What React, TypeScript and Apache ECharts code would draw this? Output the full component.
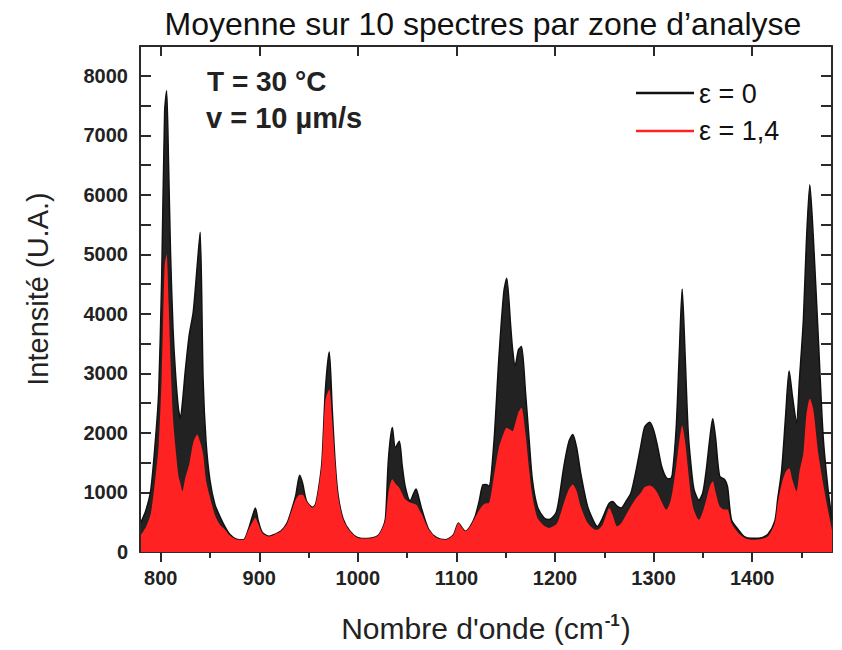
import React, { useEffect, useRef } from "react";
import * as echarts from "echarts";

// Wavenumber grid (cm-1)
const wavenumbers = [
  780, 785, 790, 795, 798, 801, 804, 806, 808, 810, 812.5, 815, 818, 820, 822, 825, 829, 833, 837, 840,
  843, 846, 850, 855, 860, 865, 870, 877, 884, 889, 893, 896, 899, 903, 910, 916, 922, 928, 933, 937,
  941, 944, 948, 954, 957, 960, 963.5, 967, 971, 974, 977, 980, 985, 992, 1000, 1010, 1020, 1025, 1028, 1031,
  1035, 1038, 1042, 1045, 1048, 1053, 1059, 1062, 1065, 1072, 1080, 1089, 1097, 1102, 1106, 1109, 1114, 1119, 1123, 1127,
  1130, 1133, 1138, 1143, 1148, 1151, 1155, 1157, 1159.5, 1163, 1166, 1170, 1174, 1177, 1182, 1189, 1194, 1201, 1204, 1209,
  1214, 1218, 1222, 1226, 1233, 1240, 1243, 1248, 1252, 1255, 1258.5, 1263, 1267, 1272, 1277, 1282, 1287, 1291, 1296, 1300,
  1304, 1308, 1313, 1317, 1319, 1323, 1326, 1329, 1332, 1335, 1338, 1341, 1346, 1350, 1353.5, 1357, 1360, 1363, 1367, 1372,
  1375, 1379, 1386, 1392, 1399, 1408, 1416, 1423, 1426, 1430, 1434, 1437.5, 1441, 1445, 1448, 1452, 1455, 1458.5, 1462, 1467,
  1472, 1477, 1481,
];

// Intensity, epsilon = 0 (black)
const intensityEps0 = [
  500, 700, 1050, 1950, 2700, 4600, 7400, 7750, 6500, 5000, 3750, 3000, 2400, 2250, 2500, 3050, 3650, 4030, 4800, 5370,
  2900, 1850, 1200, 800, 600, 430, 300, 215, 205, 380, 600, 740, 520, 330, 265, 300, 350, 480, 720, 950,
  1290, 1150, 850, 750, 800, 1050, 1500, 2700, 3360, 2400, 1500, 950, 560, 350, 240, 225, 270, 400, 560, 1550,
  2090, 1750, 1860, 1450, 1100, 860, 1060, 900, 710, 375, 240, 207, 290, 488, 400, 347, 430, 600, 850, 1130,
  1133, 1105, 1835, 3240, 4360, 4600, 3800, 3400, 3125, 3400, 3450, 2700, 1830, 1220, 770, 570, 545, 660, 880, 1440,
  1850, 1975, 1750, 1330, 770, 490, 430, 560, 720, 820, 850, 770, 740, 850, 990, 1350, 1780, 2100, 2180, 2050,
  1780, 1450, 1245, 1230, 1300, 2100, 3300, 4420, 3300, 2050, 1450, 1050, 870, 1000, 1385, 1900, 2240, 1900, 1273, 1217,
  1100, 544, 375, 260, 230, 235, 300, 520, 900, 1385, 2300, 3040, 2600, 2171, 2900, 3910, 5200, 6170, 5300, 3630,
  1946, 1049, 550,
];

// Intensity, epsilon = 1,4 (red)
const intensityEps14 = [
  290, 420, 650, 1300, 1800, 2950, 4800, 5000, 4200, 3200, 2250, 1750, 1280, 1150, 1020, 1250, 1480, 1840, 1975, 1850,
  1650, 1200, 920, 620, 460, 380, 280, 210, 205, 375, 500, 572, 470, 320, 260, 300, 350, 470, 700, 880,
  960, 960, 850, 745, 796, 1049, 1498, 2550, 2730, 2200, 1480, 940, 550, 347, 236, 225, 270, 400, 540, 1000,
  1220, 1150, 1080, 980, 885, 830, 796, 720, 630, 375, 236, 207, 290, 488, 400, 347, 430, 580, 700, 790,
  820, 825, 1273, 1750, 2000, 2087, 2050, 2030, 2150, 2350, 2424, 2000, 1350, 950, 580, 440, 405, 460, 560, 825,
  1050, 1133, 1020, 768, 490, 380, 375, 450, 620, 740, 620, 431, 480, 620, 768, 900, 993, 1090, 1116, 1080,
  993, 850, 712, 850, 1000, 1450, 1850, 2126, 1850, 1385, 936, 700, 540, 680, 880, 1100, 1189, 1000, 768, 712,
  712, 488, 320, 240, 207, 215, 263, 488, 825, 1150, 1350, 1408, 1200, 1020, 1350, 1667, 2300, 2576, 2400, 1667,
  1150, 700, 370,
];

const majorTicksX = [800, 900, 1000, 1100, 1200, 1300, 1400];
const minorTicksX = [850, 950, 1050, 1150, 1250, 1350, 1450];

const seriesNames = ["\u03b5 = 0", "\u03b5 = 1,4"];
const titleText = "Moyenne sur 10 spectres par zone d\u2019analyse";
const annotations = ["T = 30 \u00b0C", "v = 10 \u00b5m/s"];
const yAxisTitle = "Intensit\u00e9 (U.A.)";
const xAxisTitle = "Nombre d'onde (cm{sup|-1})";

const FONT = "'Liberation Sans', Arial, Helvetica, sans-serif";
const FRAME = "#2a2a2a";
const BLACK = "#222222";
const RED = "#ff2222";

export default function App() {
  const ref = useRef<HTMLDivElement>(null);

  useEffect(() => {
    if (!ref.current) return;
    const chart = echarts.init(ref.current, undefined, { renderer: "svg" });
    const d0 = wavenumbers.map((x, i) => [x, intensityEps0[i]]);
    const d1 = wavenumbers.map((x, i) => [x, intensityEps14[i]]);

    const xBase = {
      type: "value" as const,
      min: 779,
      max: 1481,
      splitLine: { show: false },
      axisLine: { show: true, onZero: false, lineStyle: { color: FRAME, width: 2 } },
    };
    const yBase = {
      type: "value" as const,
      min: 0,
      max: 8500,
      interval: 500,
      splitLine: { show: false },
      axisLine: { show: true, onZero: false, lineStyle: { color: FRAME, width: 2 } },
    };

    chart.setOption({
      animation: false,
      backgroundColor: "#ffffff",
      grid: { left: 140, right: 10, top: 46, bottom: 98 },
      xAxis: [
        {
          ...xBase,
          position: "bottom",
          axisTick: { show: true, inside: false, length: 10, customValues: majorTicksX, lineStyle: { color: FRAME, width: 2 } },
          axisLabel: {
            show: true,
            customValues: majorTicksX,
            margin: 16,
            fontFamily: FONT,
            fontSize: 20,
            fontWeight: "bold",
            color: "#222",
            formatter: (v: number) => String(v),
          },
        },
        {
          ...xBase,
          position: "bottom",
          axisLine: { show: false },
          axisTick: { show: true, inside: false, length: 6, customValues: minorTicksX, lineStyle: { color: FRAME, width: 2 } },
          axisLabel: { show: false },
        },
        {
          ...xBase,
          position: "top",
          axisTick: { show: true, inside: true, length: 10, customValues: majorTicksX, lineStyle: { color: FRAME, width: 2 } },
          axisLabel: { show: false },
        },
        {
          ...xBase,
          position: "top",
          axisLine: { show: false },
          axisTick: { show: true, inside: true, length: 5, customValues: minorTicksX, lineStyle: { color: FRAME, width: 2 } },
          axisLabel: { show: false },
        },
      ],
      yAxis: [
        {
          ...yBase,
          position: "left",
          axisTick: { show: true, inside: true, length: 11, lineStyle: { color: FRAME, width: 2 } },
          axisLabel: {
            show: true,
            margin: 12,
            fontFamily: FONT,
            fontSize: 20,
            fontWeight: "bold",
            color: "#222",
            showMaxLabel: false,
            formatter: (v: number) => (v % 1000 === 0 ? String(v) : ""),
          },
        },
        {
          ...yBase,
          position: "right",
          axisTick: { show: true, inside: true, length: 11, lineStyle: { color: FRAME, width: 2 } },
          axisLabel: { show: false },
        },
      ],
      series: [
        {
          name: seriesNames[0],
          type: "line",
          data: d0,
          xAxisIndex: 0,
          yAxisIndex: 0,
          smooth: 0.25,
          showSymbol: false,
          lineStyle: { color: "#111", width: 1.5 },
          areaStyle: { color: BLACK, opacity: 1 },
          z: 2,
        },
        {
          name: seriesNames[1],
          type: "line",
          data: d1,
          xAxisIndex: 0,
          yAxisIndex: 0,
          smooth: 0.25,
          showSymbol: false,
          lineStyle: { width: 0, color: RED },
          areaStyle: { color: RED, opacity: 1 },
          z: 3,
        },
      ],
      graphic: [
        {
          type: "text",
          x: 483,
          y: 24,
          style: {
            text: titleText,
            align: "center",
            verticalAlign: "middle",
            fontFamily: FONT,
            fontSize: 32,
            fill: "#111",
          },
        },
        {
          type: "text",
          x: 38,
          y: 289,
          rotation: Math.PI / 2,
          style: {
            text: yAxisTitle,
            align: "center",
            verticalAlign: "middle",
            fontFamily: FONT,
            fontSize: 29,
            fill: "#222",
          },
        },
        {
          type: "text",
          x: 486,
          y: 628,
          style: {
            text: xAxisTitle,
            align: "center",
            verticalAlign: "middle",
            fontFamily: FONT,
            fontSize: 30,
            fill: "#222",
            rich: {
              sup: {
                fontFamily: FONT,
                fontSize: 17,
                fontWeight: "bold",
                fill: "#222",
                verticalAlign: "top",
                padding: [0, 1, 16, 1],
              },
            },
          },
        },
        {
          type: "text",
          x: 207,
          y: 81,
          style: {
            text: annotations[0],
            verticalAlign: "middle",
            fontFamily: FONT,
            fontSize: 28,
            fontWeight: "bold",
            fill: "#222",
          },
        },
        {
          type: "text",
          x: 206,
          y: 118,
          style: {
            text: annotations[1],
            verticalAlign: "middle",
            fontFamily: FONT,
            fontSize: 29,
            fontWeight: "bold",
            fill: "#222",
          },
        },
        { type: "line", shape: { x1: 636, y1: 93, x2: 694, y2: 93 }, style: { stroke: "#111", lineWidth: 2.5 } },
        { type: "line", shape: { x1: 636, y1: 131, x2: 694, y2: 131 }, style: { stroke: RED, lineWidth: 2.5 } },
        {
          type: "text",
          x: 699,
          y: 94,
          style: { text: seriesNames[0], verticalAlign: "middle", fontFamily: FONT, fontSize: 27, fill: "#111" },
        },
        {
          type: "text",
          x: 699,
          y: 131,
          style: { text: seriesNames[1], verticalAlign: "middle", fontFamily: FONT, fontSize: 27, fill: "#111" },
        },
      ],
    });
    return () => chart.dispose();
  }, []);

  return <div ref={ref} style={{ position: "fixed", left: 0, top: 0, width: 842, height: 650 }} />;
}
